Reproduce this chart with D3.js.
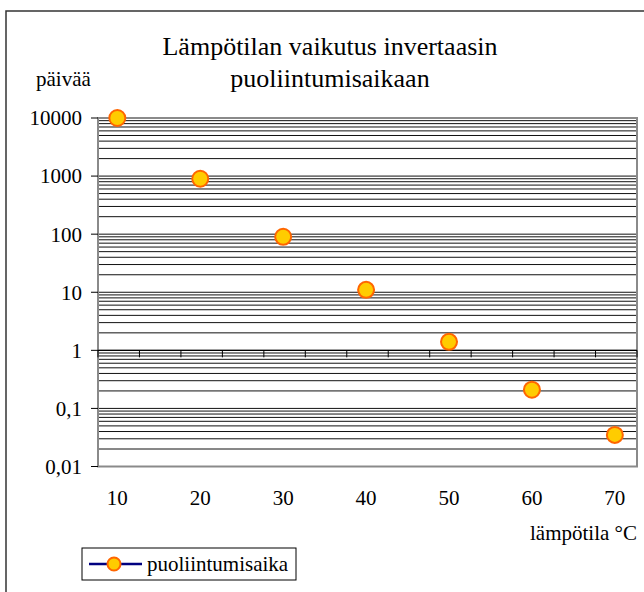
<!DOCTYPE html>
<html><head><meta charset="utf-8">
<script src="https://cdn.jsdelivr.net/npm/d3@7/dist/d3.min.js"></script>
<style>
html,body{margin:0;padding:0;background:#fff;}
svg{display:block;font-family:"Liberation Serif","Times New Roman",serif;}
</style></head>
<body>
<svg id="chart" width="644" height="592"></svg>
<script>
// ---- data ----
const temperatures = [10, 20, 30, 40, 50, 60, 70];
const halfLife = [10000, 900, 90, 11, 1.4, 0.21, 0.035];
const yTickValues = [0.01, 0.1, 1, 10, 100, 1000, 10000];
const yTickLabels = ["0,01", "0,1", "1", "10", "100", "1000", "10000"];
const xTickLabels = ["10", "20", "30", "40", "50", "60", "70"];
const titleLines = ["Lämpötilan vaikutus invertaasin", "puoliintumisaikaan"];
const yTitle = "päivää";
const xTitle = "lämpötila °C";
const seriesName = "puoliintumisaika";

const svg = d3.select("#chart");
const W = 644, H = 592;
const plot = {left: 98, right: 637, top: 118, bottom: 466.5};

// outer chart border
svg.append("rect").attr("x", 6).attr("y", 11).attr("width", 660).attr("height", 620)
  .attr("fill", "none").attr("stroke", "#333").attr("stroke-width", 1.5);

const x = d3.scaleLinear().domain([7.67, 72.67]).range([plot.left, plot.right]);
const y = d3.scaleLog().domain([0.01, 10000]).range([plot.bottom, plot.top]);

// gridlines: major + minor (1..9 x 10^k)
const gridVals = [];
for (let k = -2; k < 4; k++) {
  for (let m = 1; m <= 9; m++) gridVals.push(m * Math.pow(10, k));
}
gridVals.push(10000);
svg.append("g").selectAll("line").data(gridVals).join("line")
  .attr("x1", plot.left).attr("x2", plot.right)
  .attr("y1", d => y(d)).attr("y2", d => y(d))
  .attr("stroke", "#111").attr("stroke-width", 1);

// plot area border (gray)
svg.append("rect").attr("x", plot.left).attr("y", plot.top)
  .attr("width", plot.right - plot.left).attr("height", plot.bottom - plot.top)
  .attr("fill", "none").attr("stroke", "#8a8a8a").attr("stroke-width", 2);

// y axis ticks and labels
const yAxis = svg.append("g");
yAxis.selectAll("line").data(yTickValues).join("line")
  .attr("x1", plot.left - 7).attr("x2", plot.left)
  .attr("y1", d => y(d)).attr("y2", d => y(d))
  .attr("stroke", "#000").attr("stroke-width", 1);
yAxis.selectAll("text").data(yTickValues).join("text")
  .attr("x", 82).attr("y", d => y(d)).attr("dy", "0.35em")
  .attr("text-anchor", "end").attr("font-size", 21).attr("fill", "#000")
  .text((d, i) => yTickLabels[i]);

// x axis crossing at 1
const xTicks = d3.range(0, 14).map(i => 7.67 + 5 * i);
const xAxisG = svg.append("g");
xAxisG.append("line").attr("x1", plot.left).attr("x2", plot.right)
  .attr("y1", y(1)).attr("y2", y(1)).attr("stroke", "#000").attr("stroke-width", 1.2);
xAxisG.selectAll("line.t").data(xTicks).join("line").attr("class", "t")
  .attr("x1", d => x(d)).attr("x2", d => x(d))
  .attr("y1", y(1)).attr("y2", y(1) + 7)
  .attr("stroke", "#000").attr("stroke-width", 1);

// x labels (low)
svg.append("g").selectAll("text").data(temperatures).join("text")
  .attr("x", d => x(d)).attr("y", 505)
  .attr("text-anchor", "middle").attr("font-size", 21).attr("fill", "#000")
  .text((d, i) => xTickLabels[i]);

// titles
svg.append("text").attr("x", 330).attr("y", 55).attr("text-anchor", "middle")
  .attr("font-size", 26).text(titleLines[0]);
svg.append("text").attr("x", 330).attr("y", 87).attr("text-anchor", "middle")
  .attr("font-size", 26).text(titleLines[1]);
svg.append("text").attr("x", 36).attr("y", 86).attr("font-size", 21).text(yTitle);
svg.append("text").attr("x", 637).attr("y", 540).attr("text-anchor", "end")
  .attr("font-size", 21).text(xTitle);

// points
svg.append("g").selectAll("circle").data(temperatures).join("circle")
  .attr("cx", d => x(d)).attr("cy", (d, i) => y(halfLife[i])).attr("r", 8)
  .attr("fill", "#FFCC00").attr("stroke", "#FF6600").attr("stroke-width", 2);

// legend
const lg = svg.append("g");
lg.append("rect").attr("x", 82).attr("y", 548).attr("width", 214).attr("height", 32)
  .attr("fill", "#fff").attr("stroke", "#000").attr("stroke-width", 1);
lg.append("line").attr("x1", 89).attr("x2", 142).attr("y1", 564).attr("y2", 564)
  .attr("stroke", "#000080").attr("stroke-width", 2.5);
lg.append("circle").attr("cx", 114).attr("cy", 564).attr("r", 6.5)
  .attr("fill", "#FFCC00").attr("stroke", "#FF6600").attr("stroke-width", 2);
lg.append("text").attr("x", 147).attr("y", 571).attr("font-size", 21).text(seriesName);
</script>
</body></html>
